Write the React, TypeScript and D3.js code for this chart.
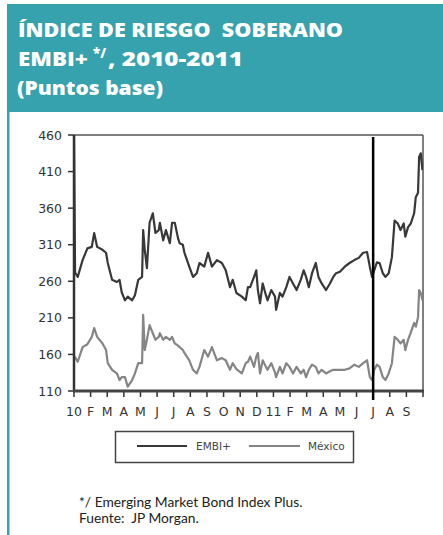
import React from "react";
import * as d3 from "d3";

// Sample dates (shared by both series)
const dates = [
  "2010-01-01", "2010-01-03", "2010-01-08", "2010-01-17", "2010-01-26",
  "2010-02-03", "2010-02-07", "2010-02-12", "2010-02-21", "2010-02-27",
  "2010-03-02", "2010-03-10", "2010-03-19", "2010-03-24", "2010-03-28",
  "2010-04-03", "2010-04-08", "2010-04-16", "2010-04-21", "2010-04-27",
  "2010-05-04", "2010-05-06", "2010-05-09", "2010-05-13", "2010-05-18",
  "2010-05-24", "2010-05-29", "2010-06-04", "2010-06-06", "2010-06-12",
  "2010-06-17", "2010-06-24", "2010-06-28", "2010-07-03", "2010-07-09",
  "2010-07-12", "2010-07-18", "2010-07-21", "2010-07-30", "2010-08-06",
  "2010-08-13", "2010-08-18", "2010-08-27", "2010-09-03", "2010-09-10",
  "2010-09-19", "2010-09-28", "2010-10-05", "2010-10-13", "2010-10-18",
  "2010-10-25", "2010-11-04", "2010-11-11", "2010-11-15", "2010-11-19",
  "2010-11-26", "2010-11-30", "2010-12-03", "2010-12-07", "2010-12-12",
  "2010-12-18", "2010-12-21", "2010-12-28", "2011-01-04", "2011-01-06",
  "2011-01-13", "2011-01-18", "2011-01-25", "2011-01-31", "2011-02-06",
  "2011-02-12", "2011-02-19", "2011-02-24", "2011-02-28", "2011-03-05",
  "2011-03-11", "2011-03-18", "2011-03-23", "2011-03-29", "2011-04-06",
  "2011-04-13", "2011-04-19", "2011-04-24", "2011-05-01", "2011-05-10",
  "2011-05-19", "2011-05-28", "2011-06-05", "2011-06-13", "2011-06-20",
  "2011-06-25", "2011-06-29", "2011-07-03", "2011-07-08", "2011-07-13",
  "2011-07-19", "2011-07-24", "2011-07-30", "2011-08-05", "2011-08-10",
  "2011-08-16", "2011-08-21", "2011-08-27", "2011-08-30", "2011-09-04",
  "2011-09-09", "2011-09-15", "2011-09-18", "2011-09-22", "2011-09-24",
  "2011-09-27", "2011-09-30",
];

const embi = [
  460, 272, 266, 289, 305,
  307, 326, 307, 303, 299,
  285, 262, 259, 262, 245,
  234, 239, 234, 241, 262,
  266, 330, 303, 278, 340,
  353, 326, 330, 340, 316,
  330, 312, 340, 340, 319,
  312, 310, 299, 280, 266,
  271, 285, 280, 299, 280,
  289, 285, 275, 252, 262,
  244, 239, 234, 252, 252,
  266, 275, 248, 230, 257,
  241, 234, 248, 239, 221,
  244, 239, 252, 266, 257,
  248, 262, 275, 266, 252,
  271, 285, 266, 257, 248,
  257, 266, 271, 273, 280,
  285, 289, 292, 299, 300,
  280, 266, 275, 286, 285,
  271, 266, 271, 293, 343,
  339, 330, 339, 321, 334,
  339, 353, 375, 381, 430,
  435, 412,
];

const mexico = [
  158, 156, 150, 170, 174,
  184, 196, 184, 175, 166,
  148, 139, 134, 125, 129,
  129, 116, 125, 134, 148,
  148, 214, 166, 180, 200,
  189, 180, 184, 189, 180,
  184, 180, 184, 175, 172,
  170, 166, 162, 152, 139,
  134, 143, 166, 157, 170,
  152, 155, 152, 139, 148,
  140, 134, 148, 150, 157,
  143, 157, 162, 134, 152,
  143, 139, 148, 135, 129,
  143, 134, 148, 143, 134,
  143, 134, 139, 129, 139,
  146, 143, 134, 139, 134,
  137, 139, 139, 139, 139,
  141, 146, 143, 148, 152,
  129, 125, 139, 146, 143,
  129, 125, 134, 148, 184,
  180, 175, 180, 166, 180,
  190, 203, 198, 211, 248,
  244, 234,
];

const monthLabels = [
  "10", "F", "M", "A", "M", "J", "J", "A", "S", "O", "N", "D",
  "11", "F", "M", "A", "M", "J", "J", "A", "S",
];
const yTicks = [110, 160, 210, 260, 310, 360, 410, 460];
const markerDate = "2011-07-01";

const TEAL = "#36a2ae";
const EMBI_COLOR = "#383838";
const MEX_COLOR = "#858585";

// Month index since January 2010, with the day as a fraction of the month
function monthIndex(s: string): number {
  const [y, m, d] = s.split("-").map(Number);
  const days = new Date(y, m, 0).getDate();
  return (y - 2010) * 12 + (m - 1) + (d - 1) / days;
}

export default function App() {
  const W = 443;
  const H = 535;
  const plot = { left: 74, right: 423, top: 135, bottom: 391 };

  const x = d3.scaleLinear().domain([0, 21]).range([plot.left, plot.right]);
  const y = d3.scaleLinear().domain([110, 460]).range([plot.bottom, plot.top]);

  const pts = dates.map((d, i) => ({ m: monthIndex(d), e: embi[i], mx: mexico[i] }));
  const embiLine = d3
    .line<{ m: number; e: number; mx: number }>()
    .x((d) => x(d.m))
    .y((d) => y(d.e));
  const mexLine = d3
    .line<{ m: number; e: number; mx: number }>()
    .x((d) => x(d.m))
    .y((d) => y(d.mx));

  const xm = x(monthIndex(markerDate));
  const tickFont = "'DejaVu Sans', sans-serif";
  const titleFont = "'Open Sans', sans-serif";
  const textFont = "Lato, 'Open Sans', sans-serif";

  return (
    <svg width={W} height={H} style={{ position: "absolute", left: 0, top: 0 }}>
      <rect x={0} y={0} width={W} height={H} fill="#fff" />
      {/* header band */}
      <rect x={7} y={4} width={W - 7} height={108} fill={TEAL} />
      <rect x={7} y={112} width={2.5} height={H - 112} fill={TEAL} />
      <g fill="#fff" fontFamily={titleFont} fontWeight={800} fontSize={19.5}>
        <text x={18} y={37} textLength={325} lengthAdjust="spacingAndGlyphs" xmlSpace="preserve">ÍNDICE DE RIESGO  SOBERANO</text>
        <text x={18} y={66} textLength={70} lengthAdjust="spacingAndGlyphs">EMBI+</text>
        <text x={93} y={58} fontSize={14} textLength={13} lengthAdjust="spacingAndGlyphs">*/</text>
        <text x={108} y={66} textLength={135} lengthAdjust="spacingAndGlyphs">, 2010-2011</text>
        <text x={17} y={95} textLength={146} lengthAdjust="spacingAndGlyphs">(Puntos base)</text>
      </g>

      <defs>
        <clipPath id="plotClip">
          <rect x={plot.left} y={plot.top - 1} width={plot.right - plot.left} height={plot.bottom - plot.top + 1} />
        </clipPath>
      </defs>

      {/* frame */}
      <line x1={plot.left} x2={plot.right} y1={plot.top} y2={plot.top} stroke="#555" strokeWidth={1.5} />
      <line x1={plot.right} x2={plot.right} y1={plot.top} y2={plot.bottom} stroke="#555" strokeWidth={1.5} />

      {/* series */}
      <g clipPath="url(#plotClip)" fill="none" strokeLinejoin="round">
        <path d={mexLine(pts) || ""} stroke={MEX_COLOR} strokeWidth={2.2} />
        <path d={embiLine(pts) || ""} stroke={EMBI_COLOR} strokeWidth={2.2} />
      </g>

      {/* y axis */}
      <line x1={plot.left} x2={plot.left} y1={plot.top} y2={plot.bottom} stroke="#333" strokeWidth={2.5} />
      <g fontFamily={tickFont} fontSize={12.5} fill="#333" textAnchor="end">
        {yTicks.map((t) => (
          <g key={t}>
            <line x1={plot.left - 6} x2={plot.left} y1={y(t)} y2={y(t)} stroke="#333" strokeWidth={1.5} />
            <text x={plot.left - 12} y={y(t)} dy="0.36em">{t}</text>
          </g>
        ))}
      </g>

      {/* x axis */}
      <g fontFamily={tickFont} fontSize={12.5} fill="#333" textAnchor="middle">
        {d3.range(0, 22).map((i) => (
          <line key={i} x1={x(i)} x2={x(i)} y1={plot.bottom} y2={plot.bottom + 6} stroke="#333" strokeWidth={1.5} />
        ))}
        {monthLabels.map((l, i) => (
          <text key={i} x={x(i)} y={plot.bottom + 25}>{l}</text>
        ))}
      </g>
      <line x1={plot.left - 1} x2={plot.right + 1} y1={plot.bottom} y2={plot.bottom} stroke="#444" strokeWidth={3} />

      {/* marker line */}
      <line x1={xm} x2={xm} y1={plot.top + 2} y2={plot.bottom + 9} stroke="#000" strokeWidth={2.5} />

      {/* legend */}
      <rect x={115.5} y={431.5} width={238} height={31} fill="#fff" stroke="#444" strokeWidth={1.5} />
      <line x1={137} x2={187} y1={446} y2={446} stroke={EMBI_COLOR} strokeWidth={2} />
      <line x1={249} x2={300} y1={446} y2={446} stroke={MEX_COLOR} strokeWidth={2} />
      <g fontFamily={tickFont} fontSize={10.5} fill="#444">
        <text x={196} y={450}>EMBI+</text>
        <text x={308} y={450}>México</text>
      </g>

      {/* notes */}
      <g fontFamily={textFont} fontSize={13.8} fill="#222">
        <text x={79} y={507}>*/ Emerging Market Bond Index Plus.</text>
        <text x={79} y={523} xmlSpace="preserve">Fuente:  JP Morgan.</text>
      </g>
    </svg>
  );
}
